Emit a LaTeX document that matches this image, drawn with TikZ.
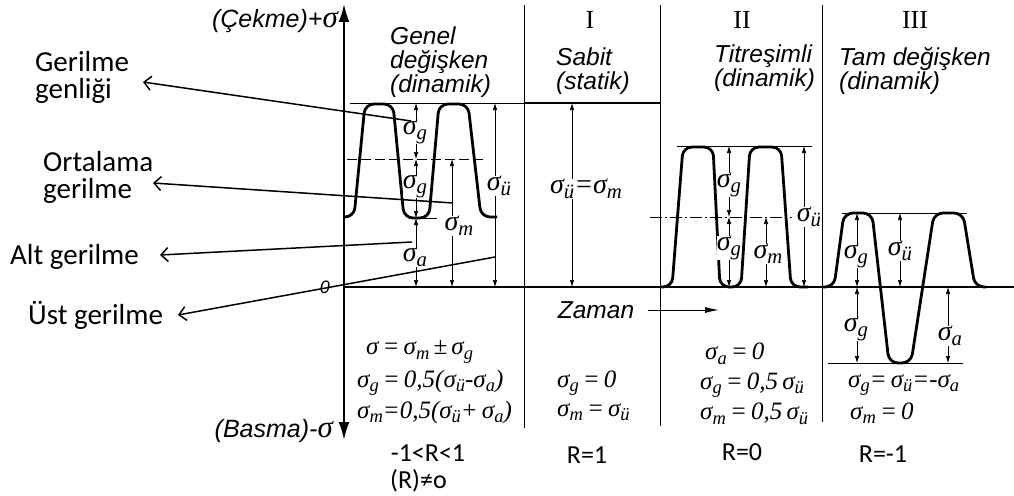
\documentclass[tikz,border=0pt]{standalone}
\usepackage{fontspec}
\usetikzlibrary{arrows.meta}
\newfontfamily\calfont{Carlito}
\newfontfamily\arfont{Liberation Sans}
\newfontfamily\tmfont{Liberation Serif}
\newcommand\sbs[1]{\raisebox{-0.18em}{\scalebox{0.74}{#1}}}
\begin{document}
\begin{tikzpicture}[x=1pt,y=-1pt,
  thinl/.style={line width=0.8pt},
  wave/.style={line width=2.8pt, rounded corners=9pt, line join=round},
  dimarr/.style={line width=0.7pt, {Latex[length=7pt,width=4.5pt]}-{Latex[length=7pt,width=4.5pt]}},
  lead/.style={line width=1.5pt, -{Straight Barb[length=7pt,width=14pt,line width=1.5pt]}},
  lbl/.style={font=\calfont\fontsize{29}{27}\selectfont, align=left, inner sep=0pt},
  ttl/.style={font=\arfont\itshape\fontsize{24.5}{24}\selectfont, align=left, inner sep=0pt},
  rom/.style={font=\tmfont\fontsize{26}{26}\selectfont, inner sep=0pt},
  sg/.style={font=\tmfont\itshape\fontsize{28}{28}\selectfont, fill=white, inner sep=0.3pt},
  fml/.style={font=\tmfont\itshape\fontsize{25}{25}\selectfont, anchor=west, inner sep=0pt},
  rlab/.style={font=\calfont\fontsize{26}{26}\selectfont, inner sep=0pt},
  axisarr/.style={line width=2pt, {Latex[length=18pt,width=11pt]}-{Latex[length=18pt,width=11pt]}},
]
\useasboundingbox (0,0) rectangle (1014,495);

% ---------- axes and dividers ----------
\coordinate (axb) at (344,440);
\coordinate (axt) at (344,4);
\draw[axisarr] (axb) -- (axt);
\coordinate (z0) at (344,287);
\coordinate (z1) at (1014,287);
\draw[line width=2pt] (z0) -- (z1);
\coordinate (d1t) at (524,5); \coordinate (d1b) at (524,428);
\coordinate (d2t) at (660,5); \coordinate (d2b) at (660,426);
\coordinate (d3t) at (822,5); \coordinate (d3b) at (822,422);
\draw[thinl] (d1t) -- (d1b);
\draw[thinl] (d2t) -- (d2b);
\draw[thinl] (d3t) -- (d3b);

% ---------- panel 0 ----------
\coordinate (t0a) at (350,103); \coordinate (t0b) at (524,103);
\draw[thinl] (t0a) -- (t0b);
\coordinate (t1b) at (660,103);
\draw[line width=2.4pt] (t0b) -- (t1b);
\coordinate (m0a) at (347,159); \coordinate (m0b) at (486,159);
\draw[thinl, dash pattern=on 10pt off 4pt] (m0a) -- (m0b);
\coordinate (v0a) at (410,218); \coordinate (v0b) at (437,218);
\draw[thinl] (v0a) -- (v0b);
\draw[wave] (344,217) -- (354,217) -- (365,104) -- (393,104) -- (404,218) -- (429,218) -- (439,104) -- (468,104) -- (481,217) -- (497,217);

\coordinate (a0t) at (416,103); \coordinate (a0m) at (416,159);
\coordinate (a0v) at (416,218); \coordinate (a0z) at (416,287);
\draw[dimarr] (a0t) -- (a0m);
\draw[dimarr] (a0m) -- (a0v);
\draw[dimarr] (a0v) -- (a0z);
\coordinate (b0m) at (452,159); \coordinate (b0z) at (452,287);
\draw[dimarr] (b0m) -- (b0z);
\coordinate (c0t) at (495,103); \coordinate (c0z) at (495,287);
\draw[dimarr] (c0t) -- (c0z);
\node[sg] (sg1) at (415,132) {σ\sbs{g}};
\node[sg] (sg2) at (415,186) {σ\sbs{g}};
\node[sg] (sa1) at (415,257) {σ\sbs{a}};
\node[sg] (sm1) at (459,226) {σ\sbs{m}};
\node[sg] (su1) at (499,186) {σ\sbs{ü}};

% ---------- panel I ----------
\coordinate (p1t) at (572,103); \coordinate (p1z) at (572,287);
\draw[dimarr] (p1t) -- (p1z);
\node[sg] (sum) at (586,189) {σ\sbs{ü}=σ\sbs{m}};

% ---------- panel II ----------
\coordinate (t2a) at (677,146); \coordinate (t2b) at (812,146);
\draw[thinl] (t2a) -- (t2b);
\coordinate (m2a) at (650,217); \coordinate (m2b) at (792,217);
\draw[thinl, dash pattern=on 12pt off 3pt on 2pt off 3pt] (m2a) -- (m2b);
\draw[wave] (660,287) -- (672,287) -- (683,147) -- (713,147) -- (720,287) -- (741,287) -- (750,147) -- (781,147) -- (791,287) -- (808,287);
\coordinate (a2t) at (729,146); \coordinate (a2m) at (729,217); \coordinate (a2z) at (729,287);
\draw[dimarr] (a2t) -- (a2m);
\draw[dimarr] (a2m) -- (a2z);
\coordinate (b2m) at (766,217); \coordinate (b2z) at (766,287);
\draw[dimarr] (b2m) -- (b2z);
\coordinate (c2t) at (804,146); \coordinate (c2z) at (804,287);
\draw[dimarr] (c2t) -- (c2z);
\node[sg] (sg3) at (729,185) {σ\sbs{g}};
\node[sg] (sg4) at (729,248) {σ\sbs{g}};
\node[sg] (sm2) at (768,254) {σ\sbs{m}};
\node[sg] (su2) at (809,217) {σ\sbs{ü}};

% ---------- panel III ----------
\coordinate (t3a) at (842,213); \coordinate (t3b) at (967,213);
\draw[thinl] (t3a) -- (t3b);
\coordinate (l3a) at (828,363); \coordinate (l3b) at (963,363);
\draw[thinl] (l3a) -- (l3b);
\draw[wave] (822,287) -- (834,287) -- (844,213) -- (872,213) -- (889,363) -- (911,363) -- (934,213) -- (963,213) -- (975,287) -- (986,287);
\coordinate (a3t) at (857,213); \coordinate (a3z) at (857,287); \coordinate (a3b) at (857,363);
\draw[dimarr] (a3t) -- (a3z);
\draw[dimarr] (a3z) -- (a3b);
\coordinate (b3t) at (900,213); \coordinate (b3z) at (900,287);
\draw[dimarr] (b3t) -- (b3z);
\coordinate (c3z) at (948,287); \coordinate (c3b) at (948,363);
\draw[dimarr] (c3z) -- (c3b);
\node[sg] (sg5) at (856,256) {σ\sbs{g}};
\node[sg] (sg6) at (856,329) {σ\sbs{g}};
\node[sg] (su3) at (900,251) {σ\sbs{ü}};
\node[sg] (sa3) at (950,336) {σ\sbs{a}};

% ---------- titles ----------
\node[ttl, anchor=east, font=\arfont\itshape\fontsize{25}{25}\selectfont] (cek) at (338,21) {(Çekme)+{\tmfont\itshape\fontsize{31}{31}\selectfont σ}};
\node[ttl, anchor=east, font=\arfont\itshape\fontsize{25}{25}\selectfont] (bas) at (333,431) {(Basma)-{\tmfont\itshape\fontsize{31}{31}\selectfont σ}};
\node[ttl, anchor=west] (gen) at (390,62) {Genel\\değişken\\(dinamik)};
\node[ttl, anchor=west] (sab) at (556,71) {Sabit\\(statik)};
\node[ttl, anchor=west] (tit) at (714,68) {Titreşimli\\(dinamik)};
\node[ttl, anchor=west] (tam) at (839,71) {Tam değişken\\(dinamik)};
\node[rom] (r1) at (590,20) {I};
\node[rom] (r2) at (742,20) {II};
\node[rom] (r3) at (915,20) {III};
\node[ttl, font=\arfont\itshape\fontsize{18}{18}\selectfont] (zero) at (325,287) {0};
\node[ttl] (zam) at (596,310) {Zaman};
\coordinate (ze) at (719,310);
\draw[line width=1pt, -{Latex[length=14pt,width=6pt]}] ([xshift=14pt]zam.east) -- (ze);

% ---------- left labels and leaders ----------
\node[lbl, anchor=west] (gg) at (35,77) {Gerilme\\genliği};
\node[lbl, anchor=west] (og) at (43,177) {Ortalama\\gerilme};
\node[lbl, anchor=west] (ag) at (10,257) {Alt gerilme};
\node[lbl, anchor=west] (ug) at (28,315) {Üst gerilme};
\coordinate (ggt) at (143,82);  \coordinate (ggs) at (411,121);
\coordinate (ogt) at (153,183); \coordinate (ogs) at (453,203);
\coordinate (agt) at (160,255); \coordinate (ags) at (412,242);
\coordinate (ugt) at (178,315); \coordinate (ugs) at (495,257);
\draw[lead] (ggs) -- (ggt);
\draw[lead] (ogs) -- (ogt);
\draw[lead] (ags) -- (agt);
\draw[lead] (ugs) -- (ugt);

% ---------- formulas ----------
\node[fml] (f1) at (366,352) {σ\,=\,σ\sbs{m}\,±\,σ\sbs{g}};
\node[fml] (f2) at (357,383) {σ\sbs{g}\,=\,0,5(σ\sbs{ü}-σ\sbs{a})};
\node[fml] (f3) at (357,412) {σ\sbs{m}=0,5(σ\sbs{ü}+\,σ\sbs{a})};
\node[fml] (f4) at (557,383) {σ\sbs{g}\,=\,0};
\node[fml] (f5) at (557,412) {σ\sbs{m}\,=\,σ\sbs{ü}};
\node[fml] (f6) at (705,354) {σ\sbs{a}\,=\,0};
\node[fml] (f7) at (700,385) {σ\sbs{g}\,=\,0,5\,σ\sbs{ü}};
\node[fml] (f8) at (700,414) {σ\sbs{m}\,=\,0,5\,σ\sbs{ü}};
\node[fml] (f9) at (848,385) {σ\sbs{g}=\,σ\sbs{ü}=-σ\sbs{a}};
\node[fml] (f10) at (850,413) {σ\sbs{m}\,=\,0};

% ---------- R values ----------
\node[rlab] (R1) at (428,453) {-1<R<1};
\node[rlab, anchor=west] (R1b) at (390,481) {(R)≠o};
\node[rlab] (R2) at (587,455) {R=1};
\node[rlab] (R3) at (742,452) {R=0};
\node[rlab] (R4) at (883,454) {R=-1};
\end{tikzpicture}
\end{document}
